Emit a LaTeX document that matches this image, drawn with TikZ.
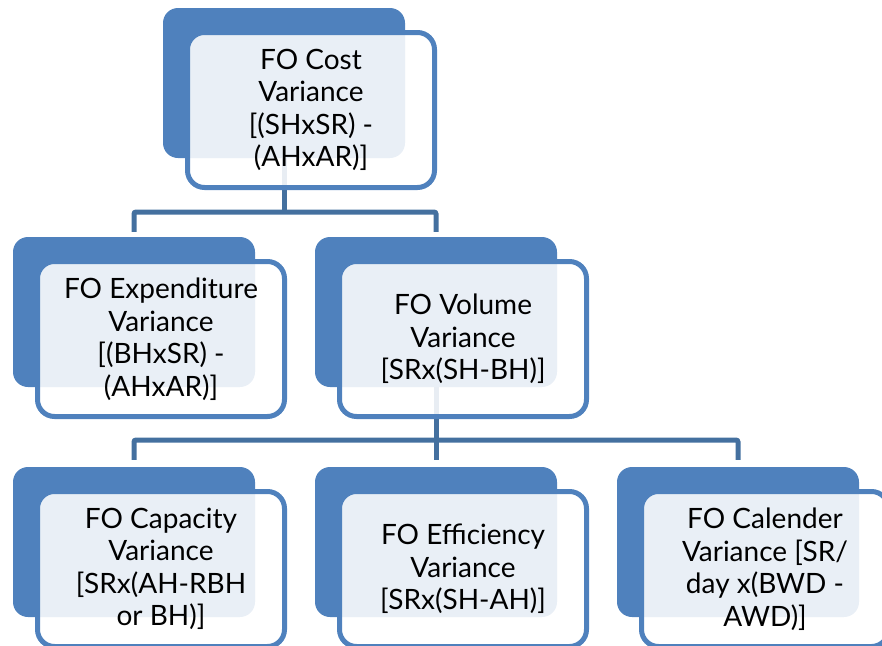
\documentclass[tikz,border=0pt]{standalone}
\usepackage{fontspec}
\setmainfont{Lato}
\usetikzlibrary{positioning,calc}
\pgfdeclarelayer{background}
\pgfsetlayers{background,main}
\definecolor{accent}{HTML}{4F81BD}
\definecolor{connc}{HTML}{44709F}
\tikzset{
  backbox/.style={draw=none, fill=accent, rounded corners=15pt, minimum width=242pt, minimum height=150pt, inner sep=0pt},
  frontbox/.style={draw=accent, line width=5pt, fill=white, fill opacity=0.88, text opacity=1, rounded corners=17pt,
     minimum width=247pt, minimum height=155pt, inner sep=0pt, align=center,
     font=\fontsize{28}{32.5}\selectfont},
  conn/.style={draw=connc, line width=5pt, line cap=butt, rounded corners=2pt},
}
\begin{document}
\begin{tikzpicture}[x=1pt,y=1pt]
\useasboundingbox (0,0) rectangle (882,-645);
\clip (0,0) rectangle (882,-645);
% back boxes
\node[backbox] (b1) at (284,-83) {};
\node[backbox] (b2a) at (134,-312) {};
\node[backbox] (b2b) at (436,-312) {};
\node[backbox] (b3a) at (134,-542) {};
\node[backbox] (b3b) at (436,-542) {};
\node[backbox] (b3c) at (738,-542) {};
% front boxes
\node[frontbox] (f1) at ($(b1)+(27,-27)$) {FO Cost\\Variance\\{[}(SHxSR) -\\(AHxAR)]};
\node[frontbox] (f2a) at ($(b2a)+(27,-27)$) {FO Expenditure\\Variance\\{[}(BHxSR) -\\(AHxAR)]};
\node[frontbox] (f2b) at ($(b2b)+(27,-27)$) {FO Volume\\Variance\\{[}SRx(SH-BH)]};
\node[frontbox] (f3a) at ($(b3a)+(27,-27)$) {FO Capacity\\Variance\\{[}SRx(AH-RBH\\or BH)]};
\node[frontbox] (f3b) at ($(b3b)+(27,-27)$) {FO Efficiency\\Variance\\{[}SRx(SH-AH)]};
\node[frontbox] (f3c) at ($(b3c)+(27,-27)$) {FO Calender\\Variance [SR/\\day x(BWD -\\AWD)]};
% connectors
\coordinate (j1) at (284,-212);
\coordinate (j2) at (436,-440);
\begin{pgfonlayer}{background}
\draw[conn] (b1.center) -- (j1);
\draw[conn] ([yshift=5pt]b2a.north) |- (j1) -| ([yshift=5pt]b2b.north);
\draw[conn] (b2b.center) -- (j2);
\draw[conn] ([yshift=7pt]b3a.north) |- (j2) -| ([yshift=7pt]b3c.north);
\draw[conn] (j2) -- ([yshift=7pt]b3b.north);
\end{pgfonlayer}
\end{tikzpicture}
\end{document}
